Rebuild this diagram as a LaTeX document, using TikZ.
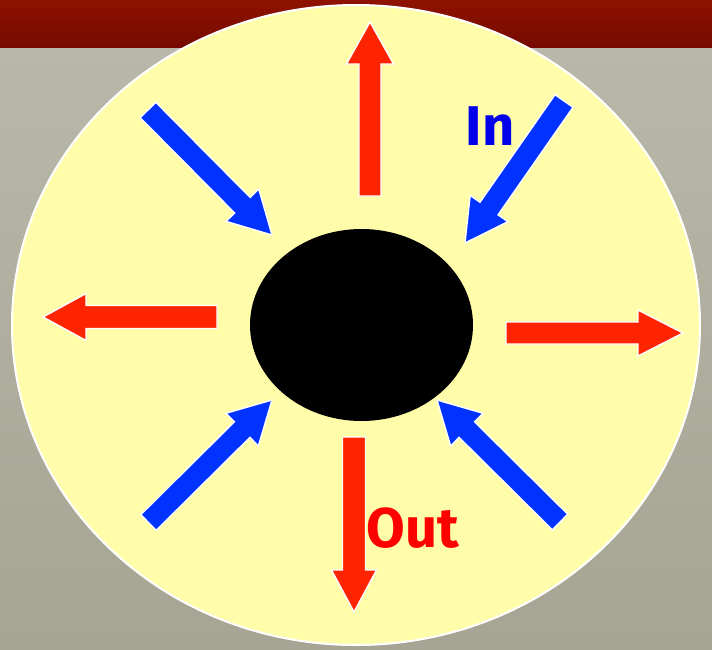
\documentclass[tikz,border=0pt]{standalone}
\usepackage{fontspec}
\setmainfont{Fira Sans}
\usetikzlibrary{calc}
\definecolor{bgtop}{RGB}{184,184,170}
\definecolor{bgbot}{RGB}{166,164,146}
\definecolor{bartop}{RGB}{142,18,0}
\definecolor{barbot}{RGB}{118,10,0}
\definecolor{paleyellow}{RGB}{255,252,170}
\definecolor{outred}{RGB}{255,36,0}
\definecolor{inblue}{RGB}{0,51,255}
\definecolor{textblue}{RGB}{0,0,235}
\definecolor{textred}{RGB}{255,0,0}
\tikzset{
  redarrow/.style={fill=outred, draw=white, line width=1.4pt, line join=miter},
  bluearrow/.style={fill=inblue, draw=white, line width=1.4pt, line join=miter},
  labeltext/.style={font=\bfseries\fontsize{56}{60}\selectfont, inner sep=0pt},
}
% #1 tail, #2 tip, #3 shaft half width, #4 head half width, #5 head length, #6 style
\newcommand\flatarrow[6]{%
  \coordinate (hb) at ($(#2)!#5!(#1)$);
  \draw[#6] ($(#1)!#3!90:(#2)$) -- ($(hb)!#3!90:(#2)$) -- ($(hb)!#4!90:(#2)$)
    -- (#2) -- ($(hb)!#4!-90:(#2)$) -- ($(hb)!#3!-90:(#2)$)
    -- ($(#1)!#3!-90:(#2)$) -- cycle;
}
\begin{document}
\begin{tikzpicture}[x=1pt,y=-1pt]
\useasboundingbox (0,0) rectangle (712,649);
% background
\fill[top color=bgtop, bottom color=bgbot] (0,47) rectangle (712,649);
\fill[top color=bartop, bottom color=barbot] (0,0) rectangle (712,47);
% disc
\draw[fill=paleyellow, draw=white, line width=2pt] (356,325) ellipse [x radius=344pt, y radius=320pt];
% black hole
\fill[black] (361.5,325) ellipse [x radius=111.5pt, y radius=96pt];
% coordinates
\coordinate (upT) at (370,196);   \coordinate (upP) at (370,22);
\coordinate (dnT) at (354,437);   \coordinate (dnP) at (354,612);
\coordinate (lfT) at (217,317);   \coordinate (lfP) at (43,317);
\coordinate (rtT) at (506,333);   \coordinate (rtP) at (683,333);
\coordinate (tlT) at (148,110);   \coordinate (tlP) at (272,235);
\coordinate (trT) at (564,101);   \coordinate (trP) at (465,243);
\coordinate (blT) at (148.5,522.5); \coordinate (blP) at (272,400);
\coordinate (brT) at (560,522);   \coordinate (brP) at (437,400);
% red arrows (out)
\flatarrow{upT}{upP}{11pt}{23.5pt}{42pt}{redarrow}
\flatarrow{dnT}{dnP}{11.5pt}{22.5pt}{42pt}{redarrow}
\flatarrow{lfT}{lfP}{11.5pt}{23.5pt}{43pt}{redarrow}
\flatarrow{rtT}{rtP}{11pt}{23pt}{45pt}{redarrow}
% blue arrows (in)
\flatarrow{tlT}{tlP}{11pt}{23pt}{42pt}{bluearrow}
\flatarrow{trT}{trP}{11pt}{23pt}{42pt}{bluearrow}
\flatarrow{blT}{blP}{11pt}{23pt}{42pt}{bluearrow}
\flatarrow{brT}{brP}{11pt}{23pt}{42pt}{bluearrow}
% labels
\node[labeltext, text=textblue] (inlabel) at (490,126) {In};
\node[labeltext, text=textred] (outlabel) at (413,528) {Out};
\end{tikzpicture}
\end{document}
